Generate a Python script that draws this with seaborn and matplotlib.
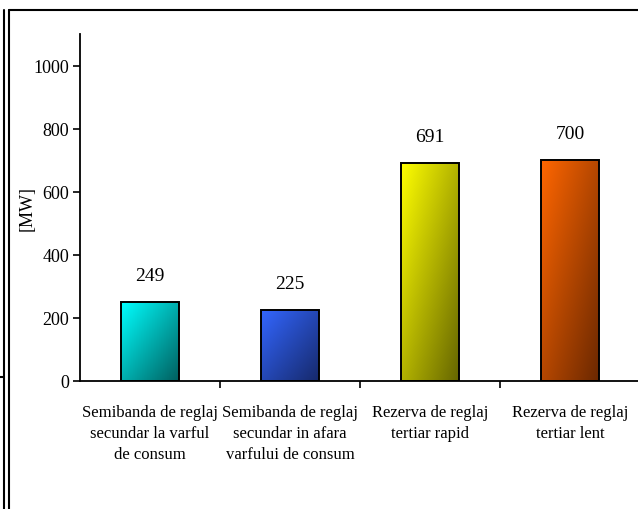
import numpy as np
import matplotlib
matplotlib.use('Agg')
import matplotlib.pyplot as plt
import matplotlib.colors as mcolors
from matplotlib.lines import Line2D
import seaborn as sns

# ── Data ────────────────────────────────────────────────────
categories = ['Semibanda de reglaj\nsecundar la varful\nde consum',
              'Semibanda de reglaj\nsecundar in afara\nvarfului de consum',
              'Rezerva de reglaj\ntertiar rapid',
              'Rezerva de reglaj\ntertiar lent']
values = [249, 225, 691, 700]
light_colors = ['#00ffff', '#3366ff', '#ffff00', '#ff6600']
dark_colors = ['#005f5f', '#16296b', '#666600', '#6b2800']
y_ticks = [0, 200, 400, 600, 800, 1000]

# ── Style ───────────────────────────────────────────────────
sns.set_style('white')
plt.rcParams['font.family'] = ['Liberation Serif', 'DejaVu Serif']
plt.rcParams['text.color'] = 'black'
plt.rcParams['axes.labelcolor'] = 'black'
plt.rcParams['xtick.color'] = 'black'
plt.rcParams['ytick.color'] = 'black'

fig = plt.figure(figsize=(6.38, 5.10), dpi=100)
ax = fig.add_axes([80 / 638, 128 / 510, 558 / 638, 347 / 510])

sns.barplot(x=list(range(len(values))), y=values, hue=list(range(len(values))),
            palette=light_colors, legend=False, width=0.41,
            edgecolor='black', linewidth=1.4, ax=ax)

# gradient fill inside each bar (light top-left -> dark bottom-right)
uu, vv = np.meshgrid(np.linspace(0, 1, 60), np.linspace(0, 1, 200))
tt = (uu + vv) / 2
for patch, c0, c1 in zip(ax.patches, light_colors, dark_colors):
    a = np.array(mcolors.to_rgb(c0))
    b = np.array(mcolors.to_rgb(c1))
    img = a[None, None, :] * (1 - tt[..., None]) + b[None, None, :] * tt[..., None]
    x0, y0 = patch.get_x(), patch.get_y()
    w, h = patch.get_width(), patch.get_height()
    im = ax.imshow(img, extent=[x0, x0 + w, y0, y0 + h], origin='upper',
                   aspect='auto', zorder=patch.get_zorder() + 0.1)
    im.set_clip_path(patch)
    patch.set_zorder(patch.get_zorder() + 0.2)
    patch.set_facecolor('none')

ax.set_xlim(-0.5, 3.5 - 2 / 140)
ax.set_ylim(0, 1100)

# value labels
for i, v in enumerate(values):
    ax.annotate(f'{v}', (i, v), xytext=(0, 13), textcoords='offset points',
                ha='center', va='bottom', fontsize=14, color='black')

# axes look
for s in ['top', 'right']:
    ax.spines[s].set_visible(False)
ax.spines['left'].set_linewidth(1.3)
ax.spines['bottom'].set_linewidth(1.3)
ax.spines['left'].set_color('black')
ax.spines['bottom'].set_color('black')

ax.set_yticks(y_ticks)
ax.set_yticklabels([str(t) for t in y_ticks], fontsize=13)
ax.tick_params(axis='y', left=True, direction='out', length=5, width=1.2, pad=3)

ax.set_xticks(range(len(categories)))
ax.set_xticklabels(categories, fontsize=12, linespacing=1.4)
ax.tick_params(axis='x', which='major', bottom=False, pad=13)
ax.set_xticks([0.5, 1.5, 2.5], minor=True)
ax.tick_params(axis='x', which='minor', bottom=True, direction='out',
               length=5, width=1.2)
ax.set_xlabel('')
ax.set_ylabel('[MW]', fontsize=13, labelpad=-2)

# outer frame lines
W, H = 638, 510
def px_line(x, y):
    fig.add_artist(Line2D([xi / W for xi in x], [1 - yi / H for yi in y],
                          color='black', linewidth=1.5, transform=fig.transFigure))

px_line([8.5, 638], [10.5, 10.5])
px_line([8.5, 8.5], [10.5, 510])
px_line([3.5, 3.5], [10.5, 510])
px_line([0, 3.5], [378, 378])

plt.savefig('out.png', dpi=100)
